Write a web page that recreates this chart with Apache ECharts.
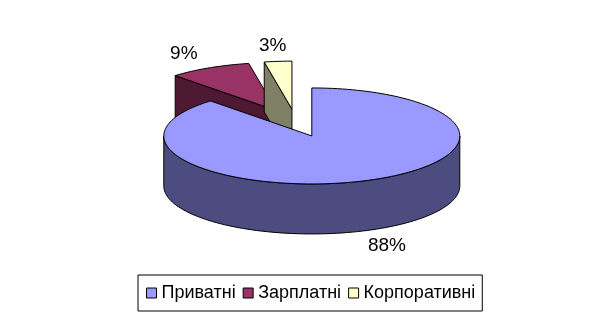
<!DOCTYPE html>
<html><head><meta charset="utf-8">
<script src="https://cdn.jsdelivr.net/npm/echarts@6/dist/echarts.min.js"></script>
<style>html,body{margin:0;padding:0;background:#fff}#c{width:610px;height:327px}</style>
</head><body><div id="c"></div>
<script>
const categories = ['Приватні', 'Зарплатні', 'Корпоративні'];
const values = [88, 9, 3];
const labels = ['88%', '9%', '3%'];
const topColors = ['#9999FF', '#993366', '#FFFFCC'];
const sideColors = ['#4C4C80', '#4D1933', '#808066'];

const CX = 296, CY = 123, RX = 148, RY = 48, DEPTH = 50, EXPLODE = 0.29, LABEL_KX = 1.38, LABEL_KY = 1.33;
const total = values.reduce((a, b) => a + b, 0);
const starts = []; let acc = 0;
values.forEach(v => { starts.push(acc / total * 360); acc += v; });

function pt(cx, cy, deg) { const r = deg * Math.PI / 180; return [cx + RX * Math.sin(r), cy - RY * Math.cos(r)]; }
function arc(cx, cy, a0, a1) {
  const n = Math.max(2, Math.ceil(Math.abs(a1 - a0) / 2)); const pts = [];
  for (let i = 0; i <= n; i++) pts.push(pt(cx, cy, a0 + (a1 - a0) * i / n));
  return pts;
}

function renderSlice(i) {
  return function (params, api) {
    const v = api.value(0);
    const a0 = starts[i], a1 = a0 + v / total * 360, mid = (a0 + a1) / 2, mr = mid * Math.PI / 180;
    const tx = CX + EXPLODE * RX * Math.sin(mr), ty = CY - EXPLODE * RY * Math.cos(mr);
    const children = [];
    const ls = { stroke: '#000', lineWidth: 1 };
    const face = (ang) => {
      const p = pt(tx, ty, ang);
      return { type: 'polygon', shape: { points: [[tx, ty], p, [p[0], p[1] + DEPTH], [tx, ty + DEPTH]] }, style: Object.assign({ fill: sideColors[i] }, ls) };
    };
    if (Math.cos((a0 - 90) * Math.PI / 180) < -1e-6) children.push(face(a0));
    if (Math.cos((a1 + 90) * Math.PI / 180) < -1e-6) children.push(face(a1));
    const w0 = Math.max(a0, 90), w1 = Math.min(a1, 270);
    if (w1 > w0) {
      const ta = arc(tx, ty, w0, w1);
      const bot = ta.map(p => [p[0], p[1] + DEPTH]).reverse();
      children.push({ type: 'polygon', shape: { points: ta.concat(bot) }, style: Object.assign({ fill: sideColors[i] }, ls) });
    }
    children.push({ type: 'polygon', shape: { points: [[tx, ty]].concat(arc(tx, ty, a0, a1)) }, style: Object.assign({ fill: topColors[i] }, ls) });
    const lx = tx + LABEL_KX * RX * Math.sin(mr);
    const ly = ty - LABEL_KY * RY * Math.cos(mr) + (Math.cos(mr) < 0 ? DEPTH : 0);
    children.push({ type: 'text', style: { text: labels[i], x: lx, y: ly, textAlign: 'center', textVerticalAlign: 'middle', font: '19px "Liberation Sans", Arial, sans-serif', fill: '#000' } });
    return { type: 'group', children };
  };
}

const chart = echarts.init(document.getElementById('c'));
chart.setOption({
  animation: false,
  backgroundColor: '#fff',
  legend: {
    data: categories,
    left: 138, top: 275,
    padding: [9, 7, 9, 8],
    borderColor: '#000', borderWidth: 1,
    itemWidth: 10, itemHeight: 10, itemGap: 7,
    icon: 'rect',
    itemStyle: { borderColor: '#000', borderWidth: 1 },
    textStyle: { fontSize: 18, fontFamily: '"Liberation Sans", Arial, sans-serif', color: '#000' }
  },
  series: categories.map((name, i) => ({
    type: 'custom', name, coordinateSystem: 'none', silent: true,
    z: i === 0 ? 3 : 2,
    itemStyle: { color: topColors[i] },
    data: [[values[i]]],
    renderItem: renderSlice(i)
  }))
});
</script></body></html>
